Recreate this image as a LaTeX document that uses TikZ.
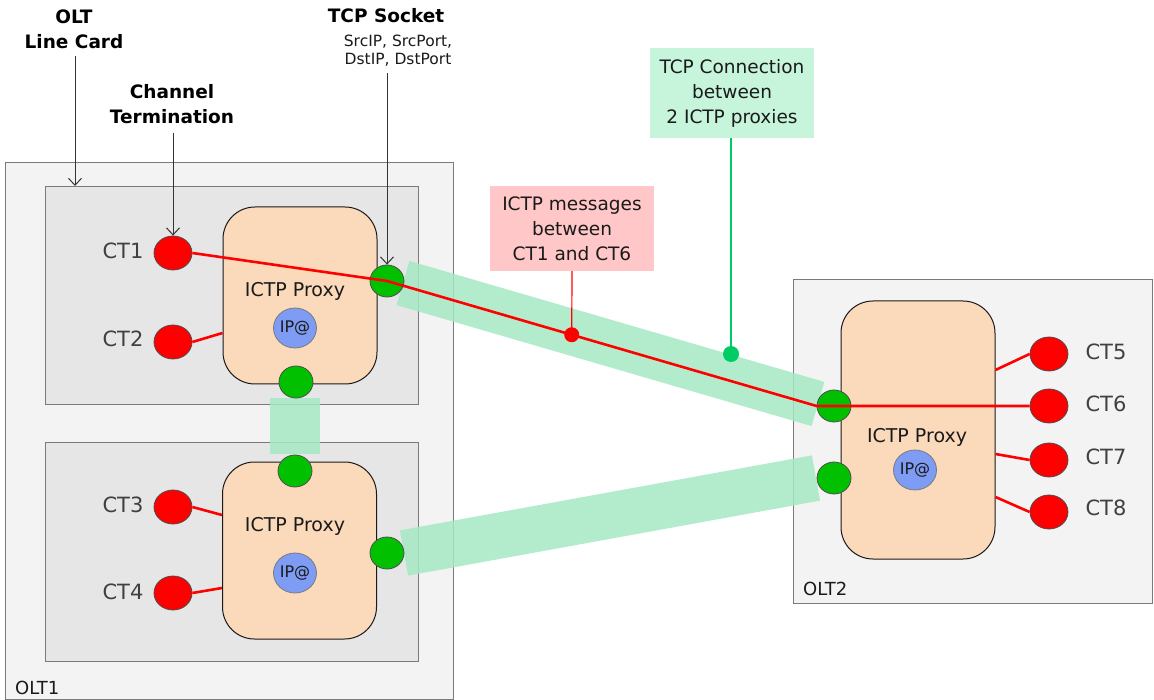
\documentclass[tikz,border=0pt]{standalone}
\usepackage{fontspec}
\setmainfont{DejaVu Sans}
\usetikzlibrary{shapes.geometric,arrows.meta}
\definecolor{oltfill}{HTML}{F3F3F3}
\definecolor{cardfill}{HTML}{E6E6E6}
\definecolor{boxline}{HTML}{7A7A7A}
\definecolor{proxyfill}{HTML}{FBD9BB}
\definecolor{ipfill}{HTML}{7F9CF5}
\definecolor{ctred}{HTML}{FF0000}
\definecolor{sockgreen}{HTML}{00C000}
\definecolor{bandgreen}{HTML}{A6E9C4}
\definecolor{msgpink}{HTML}{FFC7C7}
\definecolor{tcpmint}{HTML}{C6F5DC}
\definecolor{dotgreen}{HTML}{00CC66}
\definecolor{txt}{HTML}{404040}
\definecolor{dark}{HTML}{1A1A1A}
\begin{document}
\begin{tikzpicture}[x=1pt,y=-1pt,
  oltbox/.style={draw=boxline, fill=oltfill, line width=1pt, inner sep=0pt},
  cardbox/.style={draw=boxline, fill=cardfill, line width=1pt, inner sep=0pt},
  proxybox/.style={draw=dark, fill=proxyfill, line width=1pt, rounded corners=32pt, inner sep=0pt, minimum width=154pt, text=dark, font=\fontsize{19}{23}\selectfont},
  ipnode/.style={ellipse, draw=boxline, fill=ipfill, line width=0.8pt, minimum width=43pt, minimum height=40pt, inner sep=0pt, text=dark, font=\fontsize{16}{19}\selectfont},
  ctnode/.style={ellipse, draw=black!70, fill=ctred, line width=0.8pt, minimum width=38pt, minimum height=34pt, inner sep=0pt},
  socknode/.style={ellipse, draw=black!70, fill=sockgreen, line width=0.8pt, minimum width=34pt, minimum height=32pt, inner sep=0pt},
  ctlbl/.style={text=txt, font=\fontsize{21}{25}\selectfont, inner sep=0pt},
  olbl/.style={text=dark, font=\fontsize{18}{22}\selectfont, inner sep=0pt},
  toplbl/.style={text=black, font=\fontsize{18.5}{25}\selectfont\bfseries, align=center, inner sep=0pt},
  band/.style={draw=bandgreen, line width=46pt, opacity=0.85},
  redline/.style={draw=ctred, line width=2.6pt},
  pointer/.style={draw=black!80, line width=1pt, -{Straight Barb[length=7pt,width=13pt]}},
  calloutbox/.style={inner sep=0pt, align=center, text=dark, font=\fontsize{18.5}{25}\selectfont}
]
\useasboundingbox (0,0) rectangle (1154,700);
% OLT boxes
\node[oltbox, minimum width=448pt, minimum height=536pt] (olt1) at (229,431) {};
\node[oltbox, minimum width=359pt, minimum height=323pt] (olt2) at (972.5,441.5) {};
\node[olbl, anchor=west] (olt1l) at (15,688) {OLT1};
\node[olbl, anchor=west] (olt2l) at (803,589) {OLT2};
% line cards
\node[cardbox, minimum width=373pt, minimum height=218pt] (lc1) at (231.5,296) {};
\node[cardbox, minimum width=373pt, minimum height=219pt] (lc2) at (231.5,551.5) {};
% proxies
\node[proxybox, minimum height=177pt] (p1) at (300,295.5) {};
\node[proxybox, minimum height=177pt] (p2) at (299.5,550.5) {};
\node[proxybox, minimum height=258pt] (p3) at (918,430) {};
\node[text=dark, font=\fontsize{19}{23}\selectfont, inner sep=0pt] (p1t) at (295,291) {ICTP Proxy};
\node[text=dark, font=\fontsize{19}{23}\selectfont, inner sep=0pt] (p2t) at (295,526) {ICTP Proxy};
\node[text=dark, font=\fontsize{19}{23}\selectfont, inner sep=0pt] (p3t) at (917,437) {ICTP Proxy};
\node[ipnode] (ip1) at (295,328) {IP@};
\node[ipnode] (ip2) at (295,573) {IP@};
\node[ipnode] (ip3) at (915,470) {IP@};
% bands
\coordinate (b1a) at (403,283);
\coordinate (b1b) at (818,404);
\coordinate (b2a) at (404,553);
\coordinate (b2b) at (816,478);
\draw[band] (b1a) -- (b1b);
\draw[band] (b2a) -- (b2b);
\fill[bandgreen, opacity=0.85] (270,398) rectangle (320,454);
% sockets
\node[socknode] (s1) at (387,281) {};
\node[socknode] (s2) at (296,382) {};
\node[socknode] (s3) at (295,471) {};
\node[socknode] (s4) at (387,553) {};
\node[socknode] (s5) at (834,406) {};
\node[socknode] (s6) at (834,478) {};
% CTs
\node[ctnode] (ct1) at (173,253) {};
\node[ctnode] (ct2) at (173,342) {};
\node[ctnode] (ct3) at (173,507) {};
\node[ctnode] (ct4) at (173,593) {};
\node[ctnode] (ct5) at (1049,354) {};
\node[ctnode] (ct6) at (1049,406) {};
\node[ctnode] (ct7) at (1049,460) {};
\node[ctnode] (ct8) at (1049,512) {};
\node[ctlbl] (l1) at (123,251) {CT1};
\node[ctlbl] (l2) at (123,339) {CT2};
\node[ctlbl] (l3) at (123,505) {CT3};
\node[ctlbl] (l4) at (123,592) {CT4};
\node[ctlbl] (l5) at (1106,352) {CT5};
\node[ctlbl] (l6) at (1106,404) {CT6};
\node[ctlbl] (l7) at (1106,457) {CT7};
\node[ctlbl] (l8) at (1106,508) {CT8};
% CT links
\draw[redline] (ct2.east) -- ([yshift=-37.5pt]p1.west);
\draw[redline] (ct3.east) -- ([yshift=35.5pt]p2.west);
\draw[redline] (ct4.east) -- ([yshift=-37.5pt]p2.west);
\draw[redline] (ct5.west) -- ([yshift=60pt]p3.east);
\draw[redline] (ct7.west) -- ([yshift=-24pt]p3.east);
\draw[redline] (ct8.west) -- ([yshift=-67pt]p3.east);
% message path
\draw[redline] (ct1.east) -- (s1.center) -- coordinate[pos=0.43] (md) (s5.west) -- (ct6.west);
% callouts
\node[calloutbox, fill=msgpink, minimum width=164pt, minimum height=85pt] (msg) at (572,228.5) {ICTP messages\\between\\CT1 and CT6};
\node[calloutbox, fill=tcpmint, minimum width=164pt, minimum height=90pt] (tcp) at (732,93) {TCP Connection\\between\\2 ICTP proxies};
\draw[ctred, line width=1.2pt] (msg.south) -- (md);
\fill[ctred] (md) circle (7.5pt);
\coordinate (gd) at (731,354);
\draw[dotgreen, line width=1.2pt] (tcp.south -| gd) -- (gd);
\fill[dotgreen] (gd) circle (8pt);
% top labels
\node[toplbl] (oltlc) at (74,29) {OLT\\Line Card};
\node[toplbl] (chterm) at (172,104) {Channel\\Termination};
\node[toplbl] (tcps) at (386,16) {TCP Socket};
\node[text=dark, font=\fontsize{15.5}{18}\selectfont, align=center, inner sep=0pt] (tcpf) at (398,51) {SrcIP, SrcPort,\\DstIP, DstPort};
\coordinate (lcarr) at (75,186);
\draw[pointer] (75,56) -- (lcarr);
\draw[pointer] (ct1.north |- 0,133) -- (ct1.north);
\draw[pointer] (s1.north |- 0,73) -- (s1.north);
\end{tikzpicture}
\end{document}
